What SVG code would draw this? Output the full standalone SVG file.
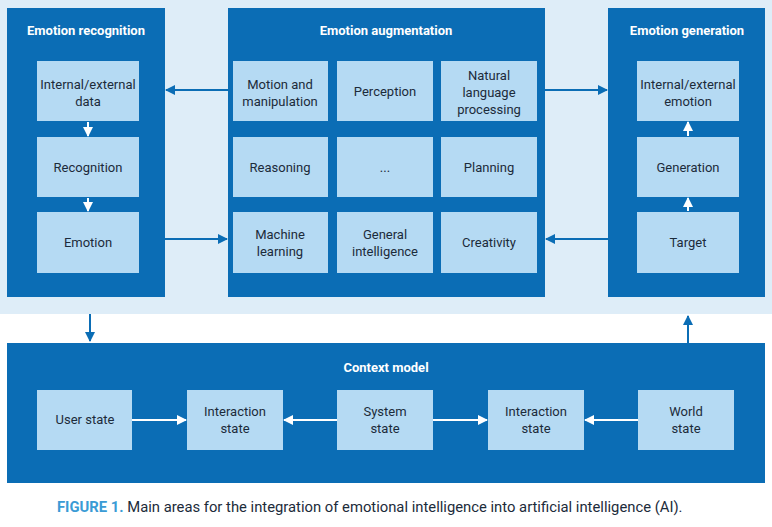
<svg xmlns="http://www.w3.org/2000/svg" width="772" height="527" viewBox="0 0 772 527">
<defs>
<style>
.p{fill:#0b6db5}
.b{fill:#b5daf3}
.t{font-family:Roboto,"Liberation Sans",sans-serif;font-size:13px;fill:#1c2b3a;text-anchor:middle}
.h{font-family:Roboto,"Liberation Sans",sans-serif;font-size:13px;font-weight:bold;fill:#fff;text-anchor:middle}
.c{stroke:#0b6db5;stroke-width:2;fill:none}
.w{stroke:#fff;stroke-width:2;fill:none}
</style>
<marker id="a" viewBox="0 0 10 10" refX="9" refY="5" markerWidth="5" markerHeight="5" orient="auto"><path d="M0,0L10,5L0,10z" fill="#0b6db5"/></marker>
<marker id="aw" viewBox="0 0 10 10" refX="9" refY="5" markerWidth="5" markerHeight="5" orient="auto"><path d="M0,0L10,5L0,10z" fill="#fff"/></marker>
</defs>
<rect width="772" height="527" fill="#fff"/>
<rect x="0" y="0" width="772" height="314" fill="#deedf8"/>
<g id="recognition">
<rect class="p" x="7" y="8" width="158" height="289"/>
<text class="h" x="86" y="35">Emotion recognition</text>
<rect class="b" x="37" y="61" width="102" height="60"/><text class="t" x="88" y="89">Internal/external</text><text class="t" x="88" y="106">data</text>
<rect class="b" x="37" y="137" width="102" height="60"/><text class="t" x="88" y="172">Recognition</text>
<rect class="b" x="37" y="212" width="102" height="61"/><text class="t" x="88" y="247">Emotion</text>
</g>
<g id="augmentation">
<rect class="p" x="228" y="8" width="317" height="289"/>
<text class="h" x="386" y="35">Emotion augmentation</text>
<rect class="b" x="233" y="61" width="95" height="60"/><text class="t" x="280" y="89">Motion and</text><text class="t" x="280" y="106">manipulation</text>
<rect class="b" x="337" y="61" width="96" height="60"/><text class="t" x="385" y="96">Perception</text>
<rect class="b" x="441" y="61" width="96" height="60"/><text class="t" x="489" y="80">Natural</text><text class="t" x="489" y="97">language</text><text class="t" x="489" y="114">processing</text>
<rect class="b" x="233" y="137" width="95" height="60"/><text class="t" x="280" y="172">Reasoning</text>
<rect class="b" x="337" y="137" width="96" height="60"/><text class="t" x="385" y="172">...</text>
<rect class="b" x="441" y="137" width="96" height="60"/><text class="t" x="489" y="172">Planning</text>
<rect class="b" x="233" y="212" width="95" height="61"/><text class="t" x="280" y="239">Machine</text><text class="t" x="280" y="256">learning</text>
<rect class="b" x="337" y="212" width="96" height="61"/><text class="t" x="385" y="239">General</text><text class="t" x="385" y="256">intelligence</text>
<rect class="b" x="441" y="212" width="96" height="61"/><text class="t" x="489" y="247">Creativity</text>
</g>
<g id="generation">
<rect class="p" x="608" y="8" width="157" height="289"/>
<text class="h" x="687" y="35">Emotion generation</text>
<rect class="b" x="637" y="61" width="102" height="60"/><text class="t" x="688" y="89">Internal/external</text><text class="t" x="688" y="106">emotion</text>
<rect class="b" x="637" y="137" width="102" height="60"/><text class="t" x="688" y="172">Generation</text>
<rect class="b" x="637" y="212" width="102" height="61"/><text class="t" x="688" y="247">Target</text>
</g>
<g id="context">
<rect class="p" x="7" y="343" width="758" height="140"/>
<text class="h" x="386" y="372">Context model</text>
<rect class="b" x="37" y="390" width="95" height="60"/><text class="t" x="85" y="424">User state</text>
<rect class="b" x="187" y="390" width="96" height="60"/><text class="t" x="235" y="416">Interaction</text><text class="t" x="235" y="433">state</text>
<rect class="b" x="337" y="390" width="96" height="60"/><text class="t" x="385" y="416">System</text><text class="t" x="385" y="433">state</text>
<rect class="b" x="488" y="390" width="96" height="60"/><text class="t" x="536" y="416">Interaction</text><text class="t" x="536" y="433">state</text>
<rect class="b" x="638" y="390" width="96" height="60"/><text class="t" x="686" y="416">World</text><text class="t" x="686" y="433">state</text>
</g>
<g id="connectors">
<path class="c" d="M228,90H166" marker-end="url(#a)"/>
<path class="c" d="M165,239H227" marker-end="url(#a)"/>
<path class="c" d="M545,90H607" marker-end="url(#a)"/>
<path class="c" d="M608,239H546" marker-end="url(#a)"/>
<path class="c" d="M90,314V341" marker-end="url(#a)"/>
<path class="c" d="M688,343V316" marker-end="url(#a)"/>
<path class="w" d="M88,122V136" marker-end="url(#aw)"/>
<path class="w" d="M88,198V211" marker-end="url(#aw)"/>
<path class="w" d="M688,211V198" marker-end="url(#aw)"/>
<path class="w" d="M688,136V122" marker-end="url(#aw)"/>
<path class="w" d="M132,420H186" marker-end="url(#aw)"/>
<path class="w" d="M337,420H284" marker-end="url(#aw)"/>
<path class="w" d="M433,420H487" marker-end="url(#aw)"/>
<path class="w" d="M638,420H585" marker-end="url(#aw)"/>
</g>
<text x="57" y="512" font-family="Roboto,'Liberation Sans',sans-serif" font-size="14.8" fill="#1c2b3a"><tspan fill="#3a9bd5" font-weight="bold">FIGURE 1.</tspan> Main areas for the integration of emotional intelligence into artificial intelligence (AI).</text>
</svg>
